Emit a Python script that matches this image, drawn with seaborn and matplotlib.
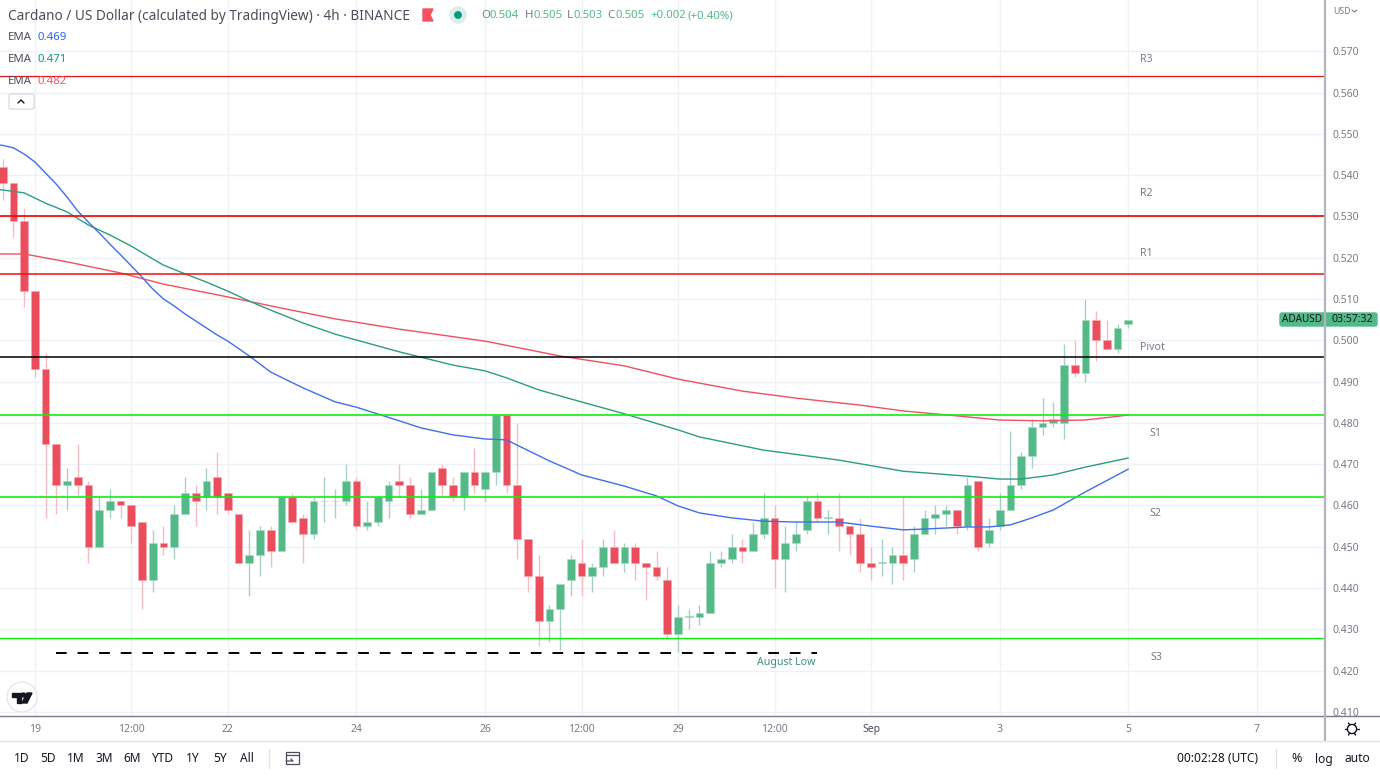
import numpy as np
import pandas as pd
import matplotlib
matplotlib.use('Agg')
import matplotlib.pyplot as plt
from matplotlib.patches import Circle, FancyBboxPatch, Polygon, Rectangle
import seaborn as sns

# 4h candles
opens = [.542, .538, .529, .512, .493, .475, .465, .467, .465, .450,
         .459, .461, .460, .456, .442, .451, .450, .458, .463, .462,
         .467, .463, .458, .446, .448, .454, .449, .462, .457, .453,
         .461, .461, .461, .466, .455, .456, .461, .466, .465, .458,
         .459, .469, .465, .462, .468, .464, .468, .482, .465, .452,
         .443, .432, .435, .442, .446, .443, .445, .450, .446, .450,
         .446, .445, .442, .429, .433, .433, .434, .446, .447, .450,
         .449, .453, .457, .447, .451, .454, .461, .457, .457, .455,
         .453, .446, .446, .446, .448, .447, .453, .457, .458, .459,
         .455, .466, .451, .455, .459, .465, .472, .479, .480, .480,
         .494, .492, .505, .500, .498, .504]
closes = [.538, .529, .512, .493, .475, .465, .466, .465, .450, .459,
          .461, .460, .455, .442, .451, .450, .458, .463, .461, .466,
          .462, .459, .446, .448, .454, .449, .462, .456, .453, .461,
          .4612, .4612, .466, .455, .456, .462, .465, .465, .458, .459,
          .468, .465, .462, .468, .465, .468, .482, .465, .452, .443,
          .432, .435, .441, .447, .443, .445, .450, .446, .450, .446,
          .445, .443, .429, .433, .4332, .434, .446, .447, .450, .449,
          .453, .457, .447, .451, .453, .461, .457, .4572, .455, .453,
          .446, .445, .4462, .448, .446, .453, .457, .458, .459, .455,
          .465, .450, .454, .459, .465, .472, .479, .480, .481, .494,
          .492, .505, .500, .498, .503, .505]
highs = [.544, .538, .532, .512, .497, .475, .469, .475, .466, .462,
         .464, .461, .460, .456, .454, .455, .460, .467, .465, .469,
         .473, .463, .458, .454, .455, .455, .462, .463, .458, .462,
         .467, .464, .470, .467, .461, .462, .466, .470, .467, .464,
         .468, .470, .467, .468, .474, .468, .482, .482, .480, .452,
         .448, .436, .441, .448, .452, .446, .452, .454, .451, .451,
         .446, .449, .445, .436, .435, .436, .449, .449, .453, .452,
         .456, .463, .460, .455, .456, .462, .463, .459, .463, .455,
         .457, .450, .452, .450, .462, .455, .459, .460, .460, .459,
         .467, .466, .457, .463, .478, .473, .481, .486, .485, .499,
         .500, .510, .507, .505, .504, .505]
lows = [.534, .525, .508, .491, .457, .458, .459, .462, .446, .450,
        .457, .457, .451, .435, .439, .448, .447, .458, .455, .459,
        .458, .458, .446, .438, .443, .445, .449, .456, .446, .452,
        .456, .457, .460, .454, .454, .455, .457, .462, .457, .458,
        .459, .462, .461, .459, .463, .461, .465, .463, .447, .439,
        .426, .427, .425, .438, .438, .439, .443, .446, .444, .442,
        .437, .442, .428, .4245, .430, .431, .434, .445, .446, .446,
        .449, .452, .440, .439, .449, .453, .456, .453, .449, .448,
        .444, .442, .443, .441, .442, .444, .453, .453, .455, .453,
        .454, .449, .450, .454, .459, .464, .469, .477, .479, .476,
        .491, .490, .495, .498, .497, .503]

# EMA readings at the candle they sit over, -1 is the bar just off the left edge
ema_blue_idx = [-1, 0, 1, 2, 3, 4, 5, 6, 7, 8, 9, 10, 11, 12, 13, 14, 15, 16, 17, 18, 19, 20, 21,
                23, 25, 28, 31, 33, 37, 39, 42, 45, 47, 48,
                51, 54, 58, 61, 63, 65, 68, 71, 74, 78, 81, 84, 86, 90, 92, 94, 96, 98, 101, 105]
ema_blue = [.5475, .5472, .5466, .5451, .5432, .5405, .5378, .5347, .5313, .5286, .5260, .5233,
            .5207, .5180, .5153, .5124, .5100, .5083, .5064, .5047, .5030, .5013, .4998, .4962,
            .4923, .4885, .4851, .4838, .4805, .4788, .4771, .4761, .4759, .4746,
            .4708, .4674, .4647, .4623, .4599, .4582, .4570, .4562, .4560, .4560,
            .4550, .4541, .4543, .4548, .4548, .4553, .4570, .4589, .4633, .4688]
ema_green_idx = [-1, 0, 2, 4, 6, 8, 10, 12, 14, 15, 17, 19, 21, 23, 25, 28, 31, 37, 42, 45, 47, 50, 53, 58,
                 63, 65, 71, 78, 84, 90, 93, 95, 98, 101, 105]
ema_green = [.5366, .5364, .5357, .5332, .5311, .5279, .5255, .5228, .5197, .5182, .5161, .5141,
             .5119, .5095, .5073, .5042, .5015, .4972, .4940, .4926, .4909, .4880, .4858, .4822,
             .4783, .4766, .4734, .4710, .4683, .4671, .4664, .4664, .4674, .4693, .4715]
ema_red_idx = [-1, 0, 2, 6, 11, 15, 21, 26, 31, 37, 45, 52, 58, 63, 69, 74, 80, 84, 89, 93, 97, 101, 105]
ema_red = [.5209, .5209, .5209, .5190, .5163, .5136, .5105, .5078, .5052, .5027, .4998, .4962,
           .4938, .4906, .4877, .4860, .4843, .4829, .4817, .4807, .4805, .4807, .4819]

# pivot levels
level_names = ['R3', 'R2', 'R1', 'Pivot', 'S1', 'S2', 'S3']
level_values = [.564, .530, .516, .496, .482, .462, .428]
level_colors = ['#e81414', '#f01010', '#f01010', '#000000', '#10ee10', '#10ee10', '#10ee10']
level_widths = [0.9, 1.3, 1.1, 1.1, 1.2, 1.2, 1.0]
level_label_x = [1146, 1146, 1146, 1152, 1156, 1156, 1156]
level_label_y = [59, 193, 254, 348, 434, 514, 657]

august_low = .4243
august_low_span = [5, 76]

time_ticks = [3, 12, 21, 33, 45, 54, 63, 72, 81, 93, 105, 117]
time_labels = ['19', '12:00', '22', '24', '26', '12:00', '29', '12:00', 'Sep', '3', '5', '7']
price_ticks = [.41, .42, .43, .44, .45, .46, .47, .48, .49, .50, .51, .52, .53, .54, .55, .56, .57]

ranges = ['1D', '5D', '1M', '3M', '6M', 'YTD', '1Y', '5Y', 'All']
range_x = [22, 48, 76, 104, 132, 163, 193, 220, 247]

GREEN = '#53b987'
RED = '#eb4d5c'
GREY = '#787b86'
DARK = '#4a4e5a'

sns.set_theme(style='white')
plt.rcParams['font.family'] = ['Noto Sans', 'DejaVu Sans']

df = pd.DataFrame({'open': opens, 'close': closes, 'high': highs, 'low': lows})
df['i'] = df.index
up = df[df['close'] >= df['open']]
down = df[df['close'] < df['open']]

fig = plt.figure(figsize=(13.8, 7.76), dpi=100)
ax = fig.add_axes([0, 60 / 776, 1325 / 1380, 716 / 776])

ax.vlines(up['i'], up['low'], up['high'], color='#a9cfca', lw=1, zorder=1)
ax.vlines(down['i'], down['low'], down['high'], color='#f7bcc3', lw=1, zorder=1)
ax.bar(up['i'], up['close'] - up['open'], bottom=up['open'], width=0.72,
       color=GREEN, edgecolor='#a9dbc3', lw=0.4, zorder=2)
ax.bar(down['i'], down['open'] - down['close'], bottom=down['close'], width=0.72,
       color=RED, edgecolor='#f5a9b1', lw=0.4, zorder=2)

sns.lineplot(x=ema_red_idx, y=ema_red, color='#f0505f', lw=1, ax=ax, zorder=3)
sns.lineplot(x=ema_green_idx, y=ema_green, color='#2a9d82', lw=1, ax=ax, zorder=3)
sns.lineplot(x=ema_blue_idx, y=ema_blue, color='#3f6fee', lw=1, ax=ax, zorder=3)

for val, col, w in zip(level_values, level_colors, level_widths):
    ax.axhline(val, color=col, lw=w, zorder=4)
ax.plot(august_low_span, [august_low, august_low], color='black', lw=1.4,
        dashes=(5.5, 5.6), zorder=4)

ax.set_xlim(-0.252, 123.35)
ax.set_ylim(0.40903, 0.5824)
ax.set_xticks(time_ticks, time_labels)
ax.set_yticks(price_ticks, ['%.3f' % p for p in price_ticks])
ax.yaxis.tick_right()
ax.tick_params(axis='both', length=0, labelsize=7.5, labelcolor=GREY)
ax.tick_params(axis='y', pad=5.5)
ax.tick_params(axis='x', pad=5.5)
ax.get_xticklabels()[8].set_fontweight('bold')
ax.get_xticklabels()[8].set_color(DARK)
ax.grid(True, color='#eef2f6', lw=1)
ax.set_axisbelow(True)
ax.patch.set_visible(False)
for s in ax.spines.values():
    s.set_visible(False)

# everything around the plot sits on a pixel-sized overlay
ui = fig.add_axes([0, 0, 1, 1], zorder=5)
ui.set_xlim(0, 1380)
ui.set_ylim(776, 0)
ui.axis('off')
ui.patch.set_alpha(0)

ui.plot([0, 1380], [716, 716], color='#787b86', lw=1)
ui.plot([1325, 1325], [0, 741], color='#b2b5be', lw=1.6)
ui.plot([0, 1380], [741, 741], color='#e0e3eb', lw=1)
ui.plot([269, 269], [749, 768], color='#e0e3eb', lw=1)
ui.plot([1276, 1276], [749, 768], color='#e0e3eb', lw=1)

for name, x, y in zip(level_names, level_label_x, level_label_y):
    ui.text(x, y, name, fontsize=7.6, color=GREY, ha='center', va='center')
ui.text(786, 663, 'August Low', fontsize=7.6, color='#3f8f80', ha='center', va='center')

# header
ui.text(8, 16, 'Cardano / US Dollar (calculated by TradingView) · 4h · BINANCE',
        fontsize=9.8, color=DARK, va='center')
ui.add_patch(Polygon([(423, 9), (433, 9), (430, 15), (433, 21), (423, 21)], color='#f7525f'))
ui.add_patch(Circle((458, 15), 8, color='#d8efe9'))
ui.add_patch(Circle((458, 15), 3.2, color='#089981'))
for x, s, col in [(481, 'O', GREY), (490, '0.504', GREEN), (525, 'H', GREY), (533, '0.505', GREEN),
                  (567, 'L', GREY), (574, '0.503', GREEN), (607, 'C', GREY), (615, '0.505', GREEN),
                  (650, '+0.002', GREEN), (688, '(+0.40%)', GREEN)]:
    ui.text(x, 16, s, fontsize=8.2, color=col, va='center')

for y, val, col in [(37, '0.469', '#2962ff'), (59, '0.471', '#089981'), (81, '0.482', '#f7525f')]:
    ui.text(8, y, 'EMA', fontsize=8.2, color=DARK, va='center')
    ui.text(37, y, val, fontsize=8.2, color=col, va='center')
ui.add_patch(FancyBboxPatch((9, 94), 25, 15, boxstyle='round,pad=0,rounding_size=2',
                            fc='white', ec='#d1d4dc', lw=0.8))
ui.plot([18, 21, 24], [103, 100, 103], color='#131722', lw=1)

# price axis tags
ui.text(1333, 12, 'USD', fontsize=6.3, color=GREY, va='center')
ui.plot([1352, 1354.5, 1357], [10, 12, 10], color=GREY, lw=0.8)
ui.add_patch(FancyBboxPatch((1280, 313), 45, 13, boxstyle='round,pad=0,rounding_size=2', color=GREEN))
ui.add_patch(FancyBboxPatch((1325, 313), 52, 13, boxstyle='round,pad=0,rounding_size=2', color=GREEN))
ui.text(1302.5, 320, 'ADAUSD', fontsize=7.2, color='#131722', ha='center', va='center')
ui.text(1352, 320, '03:57:32', fontsize=7.6, color='#131722', ha='center', va='center')

# tradingview badge
ui.add_patch(Circle((22, 697), 15, fc='white', ec='#e0e3eb', lw=0.8))
ui.add_patch(Polygon([(12, 693), (21, 693), (21, 703), (17, 703), (17, 697), (12, 697)], color='#131722'))
ui.add_patch(Circle((23.5, 695), 2, color='#131722'))
ui.add_patch(Polygon([(27, 693), (32, 693), (27, 703), (22, 703)], color='#131722'))

# gear
ui.add_patch(Circle((1352, 729), 4.6, fc='white', ec='#131722', lw=1))
for a in np.arange(0, 360, 60):
    ui.plot([1352 + 4.6 * np.cos(np.radians(a)), 1352 + 7 * np.cos(np.radians(a))],
            [729 + 4.6 * np.sin(np.radians(a)), 729 + 7 * np.sin(np.radians(a))],
            color='#131722', lw=1)

# bottom toolbar
for s, x in zip(ranges, range_x):
    ui.text(x, 759, s, fontsize=8.6, color='#131722', ha='center', va='center')
ui.add_patch(Rectangle((286, 752), 13, 12, fc='none', ec=DARK, lw=0.9))
ui.plot([286, 299], [755, 755], color=DARK, lw=0.9)
ui.plot([286, 293, 291], [761, 761, 759], color=DARK, lw=0.9)
ui.text(1218, 759, '00:02:28 (UTC)', fontsize=8.6, color='#131722', ha='center', va='center')
ui.text(1297, 759, '%', fontsize=9, color='#131722', ha='center', va='center')
ui.text(1324, 759, 'log', fontsize=8.6, color='#131722', ha='center', va='center')
ui.text(1357, 759, 'auto', fontsize=8.6, color='#131722', ha='center', va='center')

fig.savefig('out.png', dpi=100, facecolor='white')
